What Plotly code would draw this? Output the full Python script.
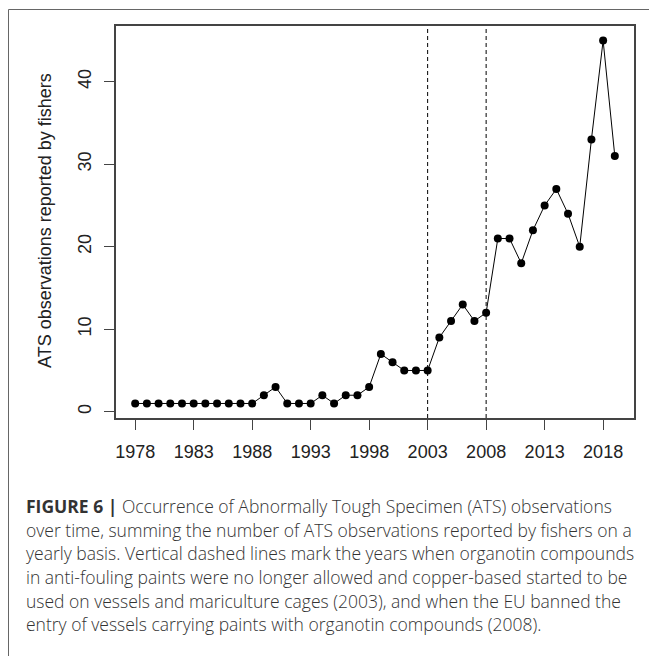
import plotly.graph_objects as go

years = [1978, 1979, 1980, 1981, 1982, 1983, 1984, 1985, 1986, 1987, 1988,
         1989, 1990, 1991, 1992, 1993, 1994, 1995, 1996, 1997, 1998,
         1999, 2000, 2001, 2002, 2003, 2004, 2005, 2006, 2007, 2008,
         2009, 2010, 2011, 2012, 2013, 2014, 2015, 2016, 2017, 2018, 2019]
observations = [1, 1, 1, 1, 1, 1, 1, 1, 1, 1, 1,
                2, 3, 1, 1, 1, 2, 1, 2, 2, 3,
                7, 6, 5, 5, 5, 9, 11, 13, 11, 12,
                21, 21, 18, 22, 25, 27, 24, 20, 33, 45, 31]
event_years = [2003, 2008]
x_ticks = [1978, 1983, 1988, 1993, 1998, 2003, 2008, 2013, 2018]
y_ticks = [0, 10, 20, 30, 40]
y_title = "ATS observations reported by fishers"
caption_lines = [
    "<b>FIGURE 6 |</b> Occurrence of Abnormally Tough Specimen (ATS) observations",
    "over time, summing the number of ATS observations reported by fishers on a",
    "yearly basis. Vertical dashed lines mark the years when organotin compounds",
    "in anti-fouling paints were no longer allowed and copper-based started to be",
    "used on vessels and mariculture cages (2003), and when the EU banned the",
    "entry of vessels carrying paints with organotin compounds (2008).",
]

# the page body adds an 8px margin, so work in page pixels minus 8
OFF = 8
W, H = 657 - OFF, 656 - OFF
L, R, T, B = 116 - OFF, 634 - OFF, 26 - OFF, 418 - OFF
pw, ph = R - L, B - T

def px_x(x):
    return (x - OFF - L) / pw

def px_y(y):
    return (B - (y - OFF)) / ph

fig = go.Figure()
fig.add_trace(go.Scatter(
    x=years, y=observations, mode="lines+markers",
    line=dict(color="black", width=1),
    marker=dict(color="black", size=8),
    showlegend=False, hoverinfo="x+y",
))

for ey in event_years:
    fig.add_shape(type="line", xref="x", yref="paper", x0=ey, x1=ey, y0=0, y1=1,
                  line=dict(color="black", width=1, dash="4px,3px"))

# outer frame
fig.add_shape(type="rect", xref="paper", yref="paper",
              x0=px_x(8.5), x1=px_x(670), y0=px_y(9.5), y1=px_y(670),
              line=dict(color="#666666", width=1), layer="below")

axis_font = dict(family="Liberation Sans, Arial, sans-serif", size=18, color="#222222")
fig.update_xaxes(range=[1976.36, 2020.64], tickvals=x_ticks, ticks="outside", ticklen=10,
                 tickcolor="#444444", tickwidth=1, showline=True, linecolor="#444444",
                 linewidth=1.5, mirror=True, showgrid=False, zeroline=False,
                 tickfont=axis_font, ticklabelstandoff=7)
fig.update_yaxes(range=[-0.76, 46.76], tickvals=y_ticks, ticks="outside", ticklen=10,
                 tickcolor="#444444", tickwidth=1, showline=True, linecolor="#444444",
                 linewidth=1.5, mirror=True, showgrid=False, zeroline=False,
                 tickfont=axis_font, tickangle=-90, ticklabelstandoff=6)

fig.add_annotation(text=y_title, xref="paper", yref="paper", x=px_x(45), y=px_y(221),
                   xanchor="center", yanchor="middle", textangle=-90, showarrow=False,
                   font=dict(family="Liberation Sans, Arial, sans-serif", size=18,
                             color="#222222"))

cap_y = [506, 530, 553, 577, 601, 624]
for line, yc in zip(caption_lines, cap_y):
    fig.add_annotation(text=line, xref="paper", yref="paper", x=px_x(24), y=px_y(yc),
                       xanchor="left", yanchor="middle", showarrow=False, align="left",
                       font=dict(family="Open Sans, Liberation Sans, sans-serif", size=17.5,
                                 color="#333333", weight=300))

fig.update_layout(width=W, height=H, margin=dict(l=L, r=W - R, t=T, b=H - B),
                  plot_bgcolor="white", paper_bgcolor="white")

fig.write_html("out.html")
